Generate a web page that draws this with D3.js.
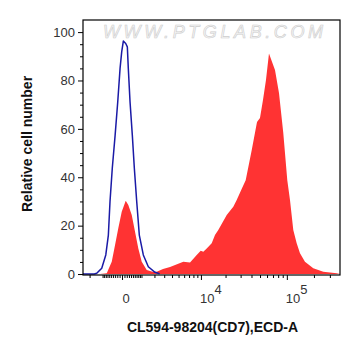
<!DOCTYPE html>
<html>
<head>
<meta charset="utf-8">
<script src="https://cdn.jsdelivr.net/npm/d3@7"></script>
<style>
  html, body { margin: 0; padding: 0; background: #fff; }
  svg { display: block; font-family: "Liberation Sans", Arial, sans-serif; }
</style>
</head>
<body>
<svg id="chart" width="361" height="356"></svg>
<script>
// ---- data (fluorescence intensity, % of max) ----
const redX = [-1172, -743, -468, -304, -154, -12, 154, 271, 438, 613, 803, 1016, 1366, 1900, 2211, 2864, 3725, 5842, 7210, 8831, 9938, 10719, 11822, 13627, 14947, 16380, 20650, 24665, 27025, 31125, 34320, 40210, 46210, 49960, 54010, 58380, 63110, 73730, 81740, 91300, 101190, 108440, 118000, 128740, 140080, 159080, 196700, 253760, 356600, 387800];
const redY = [0, 0.3, 5.1, 12.0, 19.0, 25.7, 30.3, 28.5, 24.4, 17.5, 10.6, 5.1, 1.7, 0.8, 0.95, 2.1, 2.9, 5.1, 4.8, 7.9, 9.6, 9.2, 10.6, 12.7, 16.1, 18.2, 24.4, 27.8, 30.6, 35.5, 38.8, 51.2, 62.8, 64.5, 71.9, 80.2, 91.2, 84.3, 74.8, 58.3, 38.8, 30.6, 18.2, 12.7, 8.6, 5.1, 2.4, 0.95, 0.3, 0];

const blueX = [-2650, -1600, -1410, -1055, -800, -650, -560, -440, -300, -180, -80, -12, 53, 154, 226, 271, 353, 468, 574, 709, 863, 1123, 1487, 2050, 2500];
const blueY = [0, 0, 0.3, 2.4, 7.9, 16.1, 29.9, 43.7, 57.4, 71.2, 85.0, 91.9, 96.3, 95.3, 93.9, 85.0, 71.2, 57.4, 43.8, 29.9, 16.1, 7.9, 3.0, 0.7, 0.1];

const yTickValues = [0, 20, 40, 60, 80, 100];
const yMinorValues = d3.range(0, 101, 5).filter(v => v % 20 !== 0);
const xMajorValues = [0, 1e4, 1e5];
const xMinorValues = [-2000, -1000, -900, -800, -700, -600, -500, -400, -300, -200, -100,
  100, 200, 300, 400, 500, 600, 700, 800, 900,
  1000, 2000, 3000, 4000, 5000, 6000, 7000, 8000, 9000,
  20000, 30000, 40000, 50000, 60000, 70000, 80000, 90000, 200000, 300000];
const xTickLabels = [
  { v: 0, base: "0", exp: "" },
  { v: 1e4, base: "10", exp: "4" },
  { v: 1e5, base: "10", exp: "5" }
];
const xTitle = "CL594-98204(CD7),ECD-A";
const yTitle = "Relative cell number";
const watermark = "WWW.PTGLAB.COM";

// ---- layout ----
const L = 83, R = 340, T = 20, B = 275;
const svg = d3.select("#chart");

const x = d3.scaleSymlog().constant(1575).domain([-2650, 388000]).range([L, R]);
const y = d3.scaleLinear().domain([-0.4, 105]).range([B, T]);

// watermark
svg.append("text")
  .attr("x", 103).attr("y", 38)
  .attr("textLength", 220).attr("lengthAdjust", "spacing")
  .style("font-size", "18px").style("font-style", "italic")
  .attr("fill", "#f6f6f6").attr("stroke", "#cdcdcd").attr("stroke-width", 0.6)
  .text(watermark);

// red filled histogram
const redData = redX.map((v, i) => [v, redY[i]]);
svg.append("path")
  .datum(redData)
  .attr("fill", "#ff3333")
  .attr("d", d3.area().x(d => x(d[0])).y0(y(0)).y1(d => y(d[1])));

// blue control line
const blueData = blueX.map((v, i) => [v, blueY[i]]);
svg.append("path")
  .datum(blueData)
  .attr("fill", "none")
  .attr("stroke", "#1a1aa6")
  .attr("stroke-width", 1.5)
  .attr("stroke-linejoin", "round")
  .attr("d", d3.line().x(d => x(d[0])).y(d => y(d[1])));

// frame
svg.append("rect")
  .attr("x", L).attr("y", T).attr("width", R - L).attr("height", B - T)
  .attr("fill", "none").attr("stroke", "#000").attr("stroke-width", 1.2);

// y axis
const yAxis = svg.append("g").attr("transform", `translate(${L},0)`)
  .call(d3.axisLeft(y).tickValues(yTickValues).tickSize(5).tickPadding(3));
yAxis.select(".domain").remove();
yAxis.selectAll("text").style("font-size", "13px").attr("fill", "#333");
const yMinor = svg.append("g").attr("transform", `translate(${L},0)`)
  .call(d3.axisLeft(y).tickValues(yMinorValues).tickSize(3).tickFormat(""));
yMinor.select(".domain").remove();

// x axis
const xMinor = svg.append("g").attr("transform", `translate(0,${B})`)
  .call(d3.axisBottom(x).tickValues(xMinorValues).tickSize(3).tickFormat(""));
xMinor.select(".domain").remove();
const xMajor = svg.append("g").attr("transform", `translate(0,${B})`)
  .call(d3.axisBottom(x).tickValues(xMajorValues).tickSize(5).tickFormat(""));
xMajor.select(".domain").remove();

// x tick labels
xTickLabels.forEach(t => {
  const px = x(t.v);
  const txt = svg.append("text")
    .style("font-size", "13px").attr("fill", "#333")
    .attr("y", 303);
  if (t.exp) {
    txt.attr("x", px - 1).attr("text-anchor", "start");
    txt.append("tspan").text(t.base);
    txt.append("tspan").attr("dy", -9).text(t.exp);
  } else {
    txt.attr("x", px + 4).attr("text-anchor", "middle").text(t.base);
  }
});

// axis titles
svg.append("text")
  .attr("x", (L + R) / 2 + 1).attr("y", 332)
  .attr("text-anchor", "middle")
  .style("font-size", "14px").style("font-weight", "bold").attr("fill", "#111")
  .text(xTitle);

svg.append("text")
  .attr("transform", "translate(32,144) rotate(-90)")
  .attr("text-anchor", "middle")
  .style("font-size", "14px").style("font-weight", "bold").attr("fill", "#111")
  .text(yTitle);
</script>
</body>
</html>
